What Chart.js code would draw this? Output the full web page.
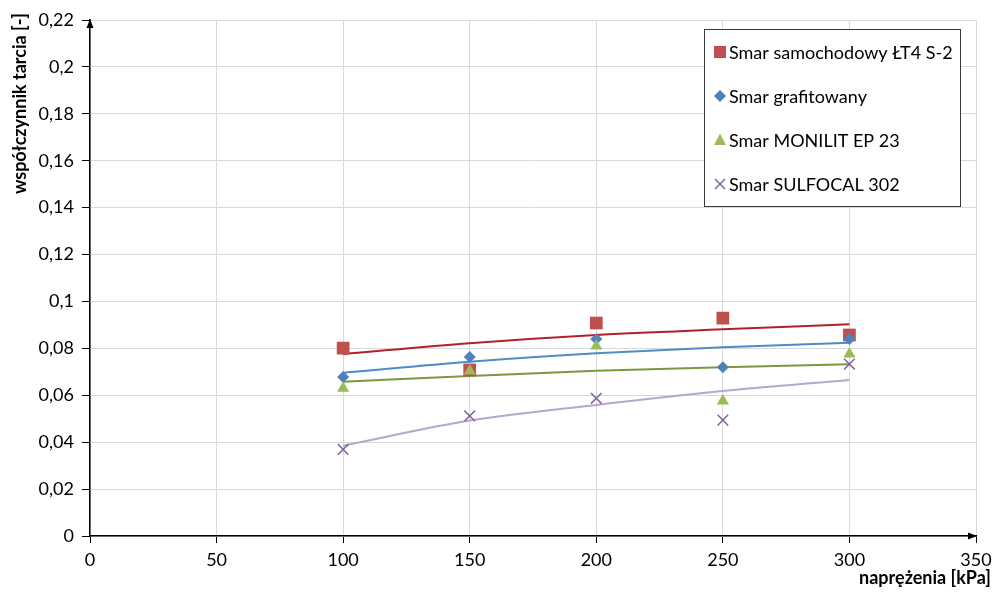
<!DOCTYPE html>
<html>
<head>
<meta charset="utf-8">
<script src="https://cdn.jsdelivr.net/npm/chart.js@4/dist/chart.umd.min.js"></script>
<style>
  body { margin: 0; background: #fff; }
  canvas { display: block; }
</style>
</head>
<body>
<canvas id="myChart" width="995" height="594"></canvas>
<script>
// naprężenia [kPa]
var pressures = [100, 150, 200, 250, 300];

// współczynnik tarcia - punkty pomiarowe
var smarSamochodowy = [0.0801, 0.0708, 0.0908, 0.0929, 0.0857];
var smarGrafitowany = [0.0678, 0.0763, 0.0840, 0.0720, 0.0840];
var smarMonilit = [0.0630, 0.0703, 0.0810, 0.0576, 0.0776];
var smarSulfocal = [0.0369, 0.0512, 0.0587, 0.0494, 0.0733];

// linie trendu
var trendSamochodowy = [0.0776, 0.0822, 0.0857, 0.0881, 0.0903];
var trendGrafitowany = [0.0696, 0.0743, 0.0779, 0.0805, 0.0824];
var trendMonilit = [0.0658, 0.0682, 0.0705, 0.0719, 0.0732];
var trendSulfocal = [0.0385, 0.0492, 0.0559, 0.0618, 0.0665];

var seriesNames = ['Smar samochodowy ŁT4 S-2', 'Smar grafitowany', 'Smar MONILIT EP 23', 'Smar SULFOCAL 302'];
var yTickLabels = ['0', '0,02', '0,04', '0,06', '0,08', '0,1', '0,12', '0,14', '0,16', '0,18', '0,2', '0,22'];
var xTickLabels = ['0', '50', '100', '150', '200', '250', '300', '350'];

var FONT = 'Lato, "Open Sans", sans-serif';

function pts(ys) {
    return pressures.map(function (x, i) { return { x: x, y: ys[i] }; });
}

function markers(name, ys, color, style, radius, order) {
    return {
        label: name,
        data: pts(ys),
        showLine: false,
        pointStyle: style,
        pointRadius: radius,
        pointHoverRadius: radius,
        backgroundColor: color,
        borderColor: color,
        pointBorderWidth: style === 'crossRot' ? 1.5 : 0,
        order: order
    };
}

function trend(ys, color) {
    return {
        label: 'trend',
        data: pts(ys),
        showLine: true,
        pointRadius: 0,
        borderColor: color,
        borderWidth: 2,
        cubicInterpolationMode: 'monotone',
        order: 10
    };
}

// legenda, strzałki osi i tytuły osi
var extras = {
    id: 'extras',
    afterDraw: function (chart) {
        var ctx = chart.ctx;
        var area = chart.chartArea;
        ctx.save();
        ctx.fillStyle = '#000';
        // strzałka osi Y
        ctx.beginPath();
        ctx.moveTo(area.left, area.top - 1);
        ctx.lineTo(area.left - 3.5, area.top + 8);
        ctx.lineTo(area.left + 3.5, area.top + 8);
        ctx.closePath();
        ctx.fill();
        // strzałka osi X
        ctx.beginPath();
        ctx.moveTo(area.right + 1, area.bottom);
        ctx.lineTo(area.right - 8, area.bottom - 3.5);
        ctx.lineTo(area.right - 8, area.bottom + 3.5);
        ctx.closePath();
        ctx.fill();

        // tytuły osi
        ctx.font = 'bold 18px ' + FONT;
        ctx.fillStyle = '#000';
        ctx.textBaseline = 'middle';
        ctx.textAlign = 'right';
        ctx.fillText('naprężenia [kPa]', 991, 578);
        ctx.save();
        ctx.translate(20, 13);
        ctx.rotate(-Math.PI / 2);
        ctx.textAlign = 'right';
        ctx.fillText('współczynnik tarcia [-]', 0, 0);
        ctx.restore();

        // legenda
        ctx.fillStyle = '#fff';
        ctx.fillRect(704, 29, 256, 177);
        ctx.strokeStyle = '#3a3a3a';
        ctx.lineWidth = 1;
        ctx.strokeRect(704.5, 29.5, 256, 177);
        var rows = [52, 96, 140, 184];
        var markerSets = chart.data.datasets.filter(function (d) { return d.label !== 'trend'; });
        ctx.font = '18px ' + FONT;
        ctx.textAlign = 'left';
        markerSets.forEach(function (ds, i) {
            var y = rows[i];
            var x = 720;
            ctx.fillStyle = ds.backgroundColor;
            ctx.strokeStyle = ds.borderColor;
            ctx.beginPath();
            if (ds.pointStyle === 'rect') {
                ctx.fillRect(x - 6, y - 6, 12, 12);
            } else if (ds.pointStyle === 'rectRot') {
                ctx.moveTo(x - 6, y); ctx.lineTo(x, y - 6); ctx.lineTo(x + 6, y); ctx.lineTo(x, y + 6);
                ctx.closePath(); ctx.fill();
            } else if (ds.pointStyle === 'triangle') {
                ctx.moveTo(x, y - 6.5); ctx.lineTo(x + 6, y + 5); ctx.lineTo(x - 6, y + 5);
                ctx.closePath(); ctx.fill();
            } else {
                ctx.lineWidth = 1.5;
                ctx.moveTo(x - 5, y - 5); ctx.lineTo(x + 5, y + 5);
                ctx.moveTo(x + 5, y - 5); ctx.lineTo(x - 5, y + 5);
                ctx.stroke();
            }
            ctx.fillStyle = '#000';
            ctx.fillText(seriesNames[i], 729, y + 1);
        });
        ctx.restore();
    }
};

var ctx = document.getElementById('myChart').getContext('2d');
var myChart = new Chart(ctx, {
    type: 'scatter',
    data: {
        datasets: [
            trend(trendSamochodowy, '#b0222a'),
            trend(trendGrafitowany, '#4d8cc8'),
            trend(trendMonilit, '#7b9a3c'),
            trend(trendSulfocal, '#b6a6d0'),
            markers(seriesNames[0], smarSamochodowy, '#c0504d', 'rect', 9, 4),
            markers(seriesNames[1], smarGrafitowany, '#4f81bd', 'rectRot', 6, 3),
            markers(seriesNames[2], smarMonilit, '#9bbb59', 'triangle', 7, 2),
            markers(seriesNames[3], smarSulfocal, '#8064a2', 'crossRot', 7.5, 1)
        ]
    },
    options: {
        responsive: false,
        animation: false,
        layout: { padding: { top: 20, right: 19, left: 0, bottom: 0 } },
        scales: {
            x: {
                type: 'linear',
                min: 0,
                max: 350,
                afterFit: function (scale) {
                    scale.height = 58;
                    scale.paddingLeft = 0;
                    scale.paddingRight = 0;
                },
                ticks: {
                    stepSize: 50,
                    color: '#000',
                    padding: 6,
                    font: { family: FONT, size: 18 },
                    callback: function (v, i) { return xTickLabels[i]; }
                },
                grid: { color: '#d9d9d9', tickColor: '#000', tickLength: 7 },
                border: { color: '#000', width: 1.5 }
            },
            y: {
                min: 0,
                max: 0.22,
                afterFit: function (scale) {
                    scale.width = 90;
                    scale.paddingTop = 0;
                    scale.paddingBottom = 0;
                },
                ticks: {
                    stepSize: 0.02,
                    color: '#000',
                    padding: 8,
                    font: { family: FONT, size: 18 },
                    callback: function (v, i) { return yTickLabels[i]; }
                },
                grid: { color: '#d9d9d9', tickColor: '#000', tickLength: 8 },
                border: { color: '#000', width: 1.5 }
            }
        },
        plugins: {
            legend: { display: false },
            tooltip: { enabled: false }
        }
    },
    plugins: [extras]
});
</script>
</body>
</html>
